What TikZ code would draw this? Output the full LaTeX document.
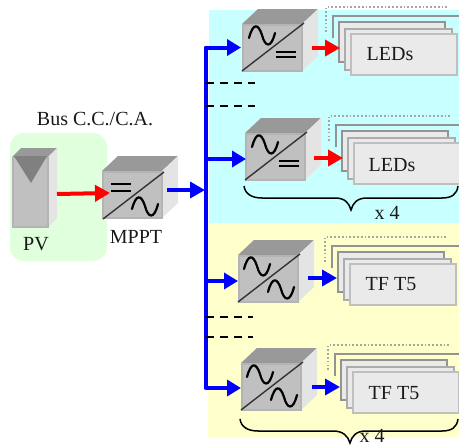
\documentclass[tikz,border=0pt]{standalone}
\usepackage{fontspec}
\setmainfont{Liberation Serif}
\usetikzlibrary{arrows.meta}
\definecolor{bgcyan}{HTML}{C8FFFF}
\definecolor{bgyellow}{HTML}{FFFFCC}
\definecolor{bggreen}{HTML}{E0FFDC}
\definecolor{cfront}{HTML}{C0C0C0}
\definecolor{cedge}{HTML}{B4B4B4}
\definecolor{ctop}{HTML}{999999}
\definecolor{cside}{HTML}{E4E4E4}
\definecolor{ccard}{HTML}{EAEAEA}
\definecolor{cbus}{HTML}{0000FF}
\tikzset{
  x=1pt,y=-1pt,
  lbl/.style={inner sep=0pt,font=\fontsize{20}{22}\selectfont,text=black!90},
  frontface/.style={draw=cedge,fill=cfront,line width=2pt,minimum width=59pt,minimum height=46pt,inner sep=0pt,outer sep=0pt,anchor=north west},
  cardA/.style={draw=gray!85,fill=ccard,line width=2pt,anchor=north west,inner sep=0pt,outer sep=0pt},
  cardB/.style={draw=gray!65,fill=ccard,line width=2pt,anchor=north west,inner sep=0pt,outer sep=0pt},
  cardC/.style={draw=gray!50,fill=ccard,line width=2pt,anchor=north west,inner sep=0pt,outer sep=0pt},
  waveline/.style={draw=black,line width=2.2pt,line cap=round},
  eqline/.style={draw=black,line width=2pt},
  diag/.style={draw=black!80,line width=1.4pt},
  busline/.style={draw=cbus,line width=4pt,line join=round},
  blueflow/.style={draw=cbus,line width=3.5pt,-{Triangle[length=15pt,width=16pt]}},
  redflow/.style={draw=red,line width=4pt,-{Triangle[length=15pt,width=16pt]}},
  feed/.style={draw=cbus,line width=3.5pt,-{Triangle[length=14pt,width=16pt]}},
  dashline/.style={draw=black,line width=1.4pt,dash pattern=on 8pt off 6pt},
  dotline/.style={draw=gray!70,line width=1.6pt,dash pattern=on 1.7pt off 2.1pt},
  greyline/.style={draw=gray!85,line width=2pt},
  bracecurve/.style={draw=black,line width=1.5pt},
}
\newcommand{\cube}[3]{%
  \begin{scope}[shift={(#2,#3)}]
    \fill[ctop] (0,0) -- (16,-15) -- (76,-15) -- (60,0) -- cycle;
    \fill[cside] (60,0) -- (76,-15) -- (76,32) -- (60,47) -- cycle;
    \node[frontface] (#1) at (1,1) {};
  \end{scope}}
\newcommand{\wave}[2]{\draw[waveline] (#1,#2+11) .. controls (#1+4,#2-4) and (#1+9,#2-4) .. (#1+13,#2+8) .. controls (#1+16,#2+20) and (#1+22,#2+22) .. (#1+26,#2+6);}
\newcommand{\eqsign}[3]{\draw[eqline] (#1,#2) -- (#1+20,#2) (#1,#3) -- (#1+20,#3);}
\newcommand{\diagline}{\draw[diag] (0,47) -- (62,-1);}
\newcommand{\cards}[3]{%
  \begin{scope}[shift={(#2,#3)}]
    \draw[dotline] (-13,10) -- (-13,-15) -- (109,-15);
    \draw[greyline] (-6,16) -- (-6,-6) -- (122,-6);
    \node[cardA,minimum width=106pt,minimum height=40pt] (#1-a) at (0,0) {};
    \node[cardB,minimum width=107pt,minimum height=41pt] (#1-b) at (6,7) {};
    \node[cardC,minimum width=106pt,minimum height=41pt] (#1-c) at (12,12) {};
  \end{scope}}
\begin{document}
\begin{tikzpicture}
\useasboundingbox (0,0) rectangle (459,447);
% backgrounds
\fill[bgcyan] (209,10) rectangle (459,223);
\fill[bgyellow] (208,223) rectangle (459,437);
\fill[bggreen,rounded corners=14pt] (10,133) rectangle (107,261);
\node[lbl] (bus) at (95,119) {Bus C.C./C.A.};
% PV panel
\fill[ctop] (12,157) -- (21,148) -- (57,148) -- (48,157) -- cycle;
\fill[cside] (48,157) -- (57,148) -- (57,218) -- (48,227) -- cycle;
\node[draw=cedge,fill=cfront,line width=2pt,minimum width=35pt,minimum height=69pt,inner sep=0pt,outer sep=0pt,anchor=north west] (pvpanel) at (13,158) {};
\fill[gray] (14,156) -- (47,156) -- (31,183) -- cycle;
\node[lbl] (pvlabel) at (36,244) {PV};
% MPPT
\cube{mppt}{102}{171}
\begin{scope}[shift={(102,171)}]
  \draw[diag] (1,48) -- (62,1);
  \eqsign{9}{13}{20}
  \wave{30}{27}
\end{scope}
\node[lbl] (mpptlabel) at (136,237) {MPPT};
% converters
\cube{c1}{242}{24}
\begin{scope}[shift={(242,24)}]\diagline\wave{7}{3}\eqsign{34}{28}{33}\end{scope}
\cube{c2}{245}{133}
\begin{scope}[shift={(245,133)}]\diagline\wave{7}{3}\eqsign{34}{28}{33}\end{scope}
\cube{c3}{238}{255}
\begin{scope}[shift={(238,255)}]\diagline\wave{6}{3}\wave{30}{26}\end{scope}
\cube{c4}{241}{363}
\begin{scope}[shift={(241,363)}]\diagline\wave{6}{3}\wave{30}{26}\end{scope}
% card stacks
\cards{s1}{339}{22}
\cards{s2}{342}{131}
\cards{s3}{338}{252}
\cards{s4}{341}{360}
\node[lbl] (t1) at (390,54) {LEDs};
\node[lbl] (t2) at (392,165) {LEDs};
\node[lbl] (t3) at (391,284) {TF T5};
\node[lbl] (t4) at (394,393) {TF T5};
% bus
\coordinate (bustop) at (205.5,47.5);
\coordinate (busbot) at (205.5,388);
\coordinate (j2) at (205.5,159);
\coordinate (j3) at (205.5,281);
\coordinate (tipm) at (205,190);
\coordinate (tip1) at (241,47.5);
\coordinate (tip2) at (246,159);
\coordinate (tip3) at (238,281);
\coordinate (tip4) at (241,388);
\draw[busline] (228,47.5) -- (bustop) -- (busbot) -- (228,388);
\draw[feed] (bustop) -- (tip1);
\draw[feed] (j2) -- (tip2);
\draw[feed] (j3) -- (tip3);
\draw[feed] (busbot) -- (tip4);
% flows
\coordinate (pvout) at (57,194);
\coordinate (mpptin) at (110,193);
\coordinate (mpptout) at (167,190);
\draw[redflow] (pvout) -- (mpptin);
\draw[blueflow] (mpptout) -- (tipm);
\coordinate (o1) at (312,48); \coordinate (i1) at (340,48);
\coordinate (o2) at (314,158); \coordinate (i2) at (343,158);
\coordinate (o3) at (308,278); \coordinate (i3) at (337,278);
\coordinate (o4) at (312,387); \coordinate (i4) at (340,387);
\draw[redflow] (o1) -- (i1);
\draw[redflow] (o2) -- (i2);
\draw[blueflow] (o3) -- (i3);
\draw[blueflow] (o4) -- (i4);
% dashes
\coordinate (d1a) at (206,83); \coordinate (d1b) at (255,83);
\coordinate (d2a) at (206,106); \coordinate (d2b) at (255,106);
\coordinate (d3a) at (206,317); \coordinate (d3b) at (253,317);
\coordinate (d4a) at (206,337); \coordinate (d4b) at (253,337);
\draw[dashline] (d1a) -- (d1b);
\draw[dashline] (d2a) -- (d2b);
\draw[dashline] (d3a) -- (d3b);
\draw[dashline] (d4a) -- (d4b);
% braces
\draw[bracecurve] (244,186) .. controls (245,194) and (252,198) .. (262,198) -- (335,198) .. controls (345,198) and (349,203) .. (351,210) .. controls (353,203) and (357,198) .. (367,198) -- (442,198) .. controls (452,198) and (457,194) .. (458,186);
\node[lbl] (x1) at (387,213) {x 4};
\draw[bracecurve] (240,419) .. controls (241,427) and (248,431) .. (258,431) -- (333,431) .. controls (343,431) and (348,436) .. (350,443) .. controls (352,436) and (356,431) .. (366,431) -- (442,431) .. controls (452,431) and (457,427) .. (458,419);
\node[lbl] (x2) at (372,435.5) {x 4};
\end{tikzpicture}
\end{document}
